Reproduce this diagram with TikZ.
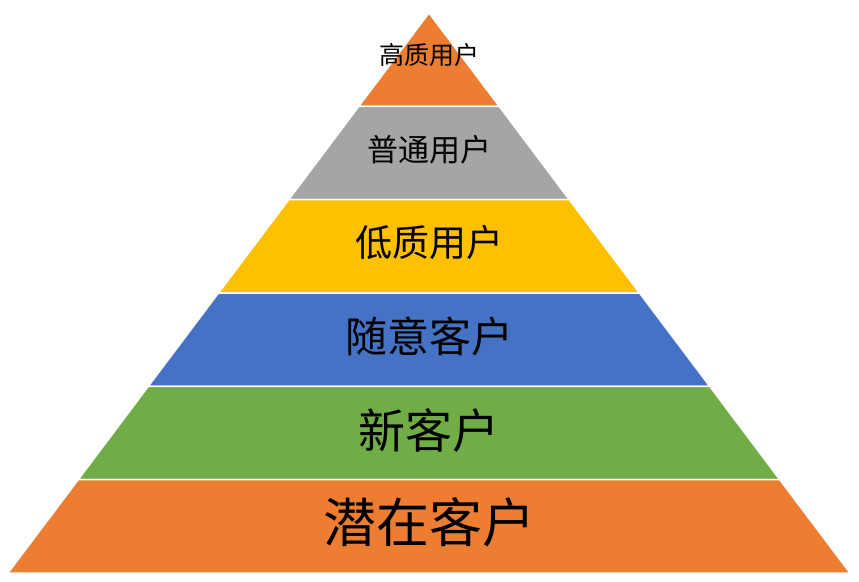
\documentclass[tikz,border=0pt]{standalone}
\usepackage{fontspec}
\newfontfamily\cjk{Noto Sans CJK SC}
\definecolor{layorange}{HTML}{ED7D31}
\definecolor{laygray}{HTML}{A5A5A5}
\definecolor{layyellow}{HTML}{FFC000}
\definecolor{layblue}{HTML}{4472C4}
\definecolor{laygreen}{HTML}{70AD47}
\tikzset{
  layer/.style={draw=white,line width=1.5pt,line join=miter},
  tag/.style={text=black,inner sep=0pt,font=\cjk}
}
\begin{document}
\begin{tikzpicture}[x=1pt,y=-1pt]
\useasboundingbox (0,0) rectangle (859,581);

\fill[layer,fill=layorange] (429,13) -- (499.2,106.3) -- (358.8,106.3) -- cycle;
\fill[layer,fill=laygray] (358.8,106.3) -- (499.2,106.3) -- (569.3,199.7) -- (288.7,199.7) -- cycle;
\fill[layer,fill=layyellow] (288.7,199.7) -- (569.3,199.7) -- (639.5,293) -- (218.5,293) -- cycle;
\fill[layer,fill=layblue] (218.5,293) -- (639.5,293) -- (709.7,386.3) -- (148.3,386.3) -- cycle;
\fill[layer,fill=laygreen] (148.3,386.3) -- (709.7,386.3) -- (779.8,479.7) -- (78.2,479.7) -- cycle;
\fill[layer,fill=layorange] (78.2,479.7) -- (779.8,479.7) -- (850,573) -- (8,573) -- cycle;

\node[tag,font=\cjk\fontsize{25}{25}\selectfont] (top) at (429,55) {高质用户};
\node[tag,font=\cjk\fontsize{31}{31}\selectfont] (common) at (429,150) {普通用户};
\node[tag,font=\cjk\fontsize{37}{37}\selectfont] (low) at (429,242) {低质用户};
\node[tag,font=\cjk\fontsize{42}{42}\selectfont] (casual) at (429,336) {随意客户};
\node[tag,font=\cjk\fontsize{47}{47}\selectfont] (new) at (429,431) {新客户};
\node[tag,font=\cjk\fontsize{53}{53}\selectfont] (latent) at (429,522) {潜在客户};
\end{tikzpicture}
\end{document}
